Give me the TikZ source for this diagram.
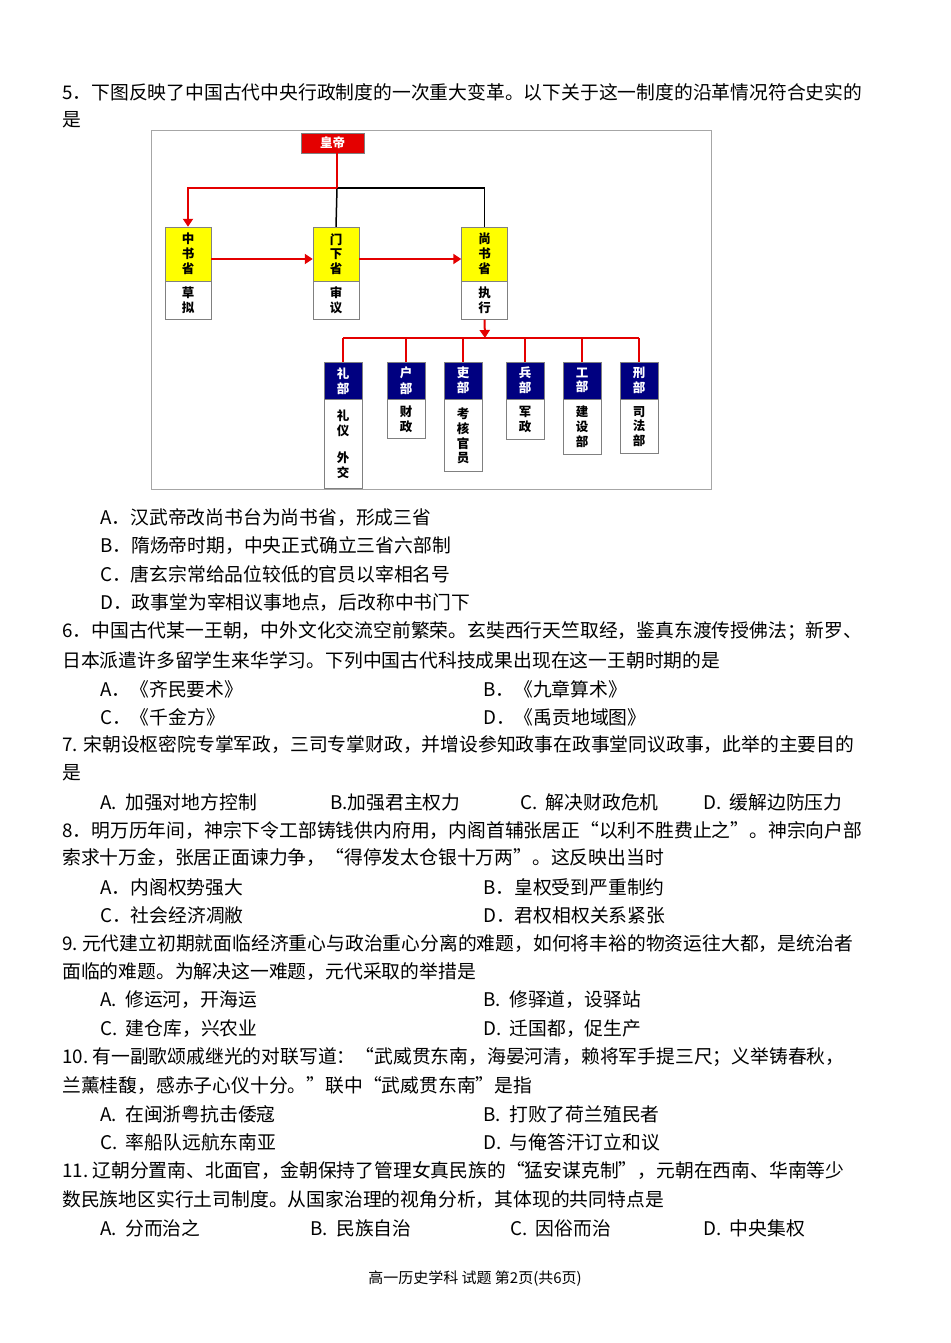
\documentclass[tikz,border=0pt]{standalone}
\usepackage{fontspec}
\setmainfont{Noto Sans CJK SC}
\usetikzlibrary{arrows.meta}
\definecolor{ored}{RGB}{228,0,0}
\definecolor{oyel}{RGB}{255,255,0}
\definecolor{onavy}{RGB}{0,0,128}
\newcommand{\tl}[4]{\node[txt] (#1) at (#2,#3) {#4};}
\begin{document}
\begin{tikzpicture}[x=1pt,y=-1pt,
  txt/.style={anchor=west,inner sep=0,font=\fontsize{18.8}{20}\selectfont},
  yb/.style={draw=gray,fill=oyel,inner sep=0,font=\fontsize{12.5}{15.5}\selectfont\bfseries},
  wb/.style={draw=gray,fill=white,inner sep=0,font=\fontsize{12.5}{15.5}\selectfont\bfseries},
  nb/.style={draw=gray,fill=onavy,text=white,inner sep=0,font=\fontsize{12.5}{15.5}\selectfont\bfseries},
  rl/.style={draw=ored,line width=2pt},
  ra/.style={draw=ored,line width=2pt,-{Triangle[length=8pt,width=10pt]}},
  bl/.style={draw=black,line width=1.5pt}]
\useasboundingbox (0,0) rectangle (950,1343);
\fill[white] (0,0) rectangle (950,1343);
% diagram frame
\draw[gray!70,line width=1pt] (151,131) rectangle (711,489);
% emperor
\node[draw=gray,fill=ored,text=white,minimum width=63pt,minimum height=20pt,inner sep=0,font=\fontsize{12.5}{14}\selectfont\bfseries] (hd) at (332.5,143) {皇帝};
% three provinces
\foreach \n/\x/\a/\b in {zs/188/{中\\书\\省}/{草\\拟}, mx/336/{门\\下\\省}/{审\\议}, ss/484.5/{尚\\书\\省}/{执\\行}}{
  \node[yb,minimum width=46pt,minimum height=54pt] (\n) at (\x,254) {\shortstack{\a}};
  \node[wb,minimum width=46pt,minimum height=38pt,anchor=north] (\n b) at (\n.south) {\shortstack{\b}};
}
\coordinate (j) at (337,188);
\draw[bl] (j) -- (mx.north);
\draw[bl] (j) -| (ss.north);
\draw[rl] (hd.south -| j) -- (j);
\draw[ra] (j) -| (zs.north);
\draw[ra] (zs.east |- 0,259) -- (mx.west |- 0,259);
\draw[ra] (mx.east |- 0,259) -- (ss.west |- 0,259);
\coordinate (k) at (485,338);
\draw[ra] (ssb.south) -- (k);
% six ministries
\foreach \n/\x/\a/\b/\h in {lb/343/{礼\\部}/{礼\\仪\\[12pt]外\\交}/89, hb/406/{户\\部}/{财\\政}/39, lib/463/{吏\\部}/{考\\核\\官\\员}/72, bb/525/{兵\\部}/{军\\政}/40, gb/582/{工\\部}/{建\\设\\部}/55, xb/639/{刑\\部}/{司\\法\\部}/54}{
  \node[nb,minimum width=38pt,minimum height=37pt,anchor=north] (\n) at (\x,362) {\shortstack{\a}};
  \node[wb,minimum width=38pt,minimum height=\h pt,anchor=north] (\n b) at (\n.south) {\shortstack{\b}};
  \draw[rl,line width=1.6pt] (\n.north) -- (\x,338);
}
\draw[rl,line width=1.6pt] (lb.north |- k) -- (xb.north |- k);
% text
\tl{q5}{62}{92}{5．下图反映了中国古代中央行政制度的一次重大变革。以下关于这一制度的沿革情况符合史实的}
\tl{q5b}{62}{120}{是}
\tl{q5A}{100}{518}{A．汉武帝改尚书台为尚书省，形成三省}
\tl{q5B}{100}{546}{B．隋炀帝时期，中央正式确立三省六部制}
\tl{q5C}{100}{574}{C．唐玄宗常给品位较低的官员以宰相名号}
\tl{q5D}{100}{603}{D．政事堂为宰相议事地点，后改称中书门下}
\tl{q6}{62}{631}{6．中国古代某一王朝，中外文化交流空前繁荣。玄奘西行天竺取经，鉴真东渡传授佛法；新罗、}
\tl{q6b}{62}{660}{日本派遣许多留学生来华学习。下列中国古代科技成果出现在这一王朝时期的是}
\tl{q6A}{100}{689}{A．《齐民要术》}
\tl{q6B}{483}{689}{B．《九章算术》}
\tl{q6C}{100}{717}{C．《千金方》}
\tl{q6D}{483}{717}{D．《禹贡地域图》}
\tl{q7}{62}{745}{7. 宋朝设枢密院专掌军政，三司专掌财政，并增设参知政事在政事堂同议政事，此举的主要目的}
\tl{q7b}{62}{773}{是}
\tl{q7A}{100}{802}{A.\ \ 加强对地方控制}
\tl{q7B}{330}{802}{B.加强君主权力}
\tl{q7C}{520}{802}{C.\ \ 解决财政危机}
\tl{q7D}{703}{802}{D.\ \ 缓解边防压力}
\tl{q8}{62}{830}{8．明万历年间，神宗下令工部铸钱供内府用，内阁首辅张居正“以利不胜费止之”。神宗向户部}
\tl{q8b}{62}{858}{索求十万金，张居正面谏力争，“得停发太仓银十万两”。这反映出当时}
\tl{q8A}{100}{887}{A．内阁权势强大}
\tl{q8B}{483}{887}{B．皇权受到严重制约}
\tl{q8C}{100}{915}{C．社会经济凋敝}
\tl{q8D}{483}{915}{D．君权相权关系紧张}
\tl{q9}{62}{944}{9.\ 元代建立初期就面临经济重心与政治重心分离的难题，如何将丰裕的物资运往大都，是统治者}
\tl{q9b}{62}{972}{面临的难题。为解决这一难题，元代采取的举措是}
\tl{q9A}{100}{1000}{A.\ \ 修运河，开海运}
\tl{q9B}{483}{1000}{B.\ \ 修驿道，设驿站}
\tl{q9C}{100}{1029}{C.\ \ 建仓库，兴农业}
\tl{q9D}{483}{1029}{D.\ \ 迁国都，促生产}
\tl{q10}{62}{1057}{10.\ 有一副歌颂戚继光的对联写道：“武威贯东南，海晏河清，赖将军手提三尺；义举铸春秋，}
\tl{q10b}{62}{1086}{兰薰桂馥，感赤子心仪十分。”联中“武威贯东南”是指}
\tl{q10A}{100}{1114}{A.\ \ 在闽浙粤抗击倭寇}
\tl{q10B}{483}{1114}{B.\ \ 打败了荷兰殖民者}
\tl{q10C}{100}{1142}{C.\ \ 率船队远航东南亚}
\tl{q10D}{483}{1142}{D.\ \ 与俺答汗订立和议}
\tl{q11}{62}{1171}{11.\ 辽朝分置南、北面官，金朝保持了管理女真民族的“猛安谋克制”，元朝在西南、华南等少}
\tl{q11b}{62}{1200}{数民族地区实行土司制度。从国家治理的视角分析，其体现的共同特点是}
\tl{q11A}{100}{1228}{A.\ \ 分而治之}
\tl{q11B}{310}{1228}{B.\ \ 民族自治}
\tl{q11C}{510}{1228}{C.\ \ 因俗而治}
\tl{q11D}{703}{1228}{D.\ \ 中央集权}
\node[inner sep=0,font=\fontsize{15}{16}\selectfont] (ft) at (475,1279) {高一历史学科 试题 第2页(共6页)};
\end{tikzpicture}
\end{document}
